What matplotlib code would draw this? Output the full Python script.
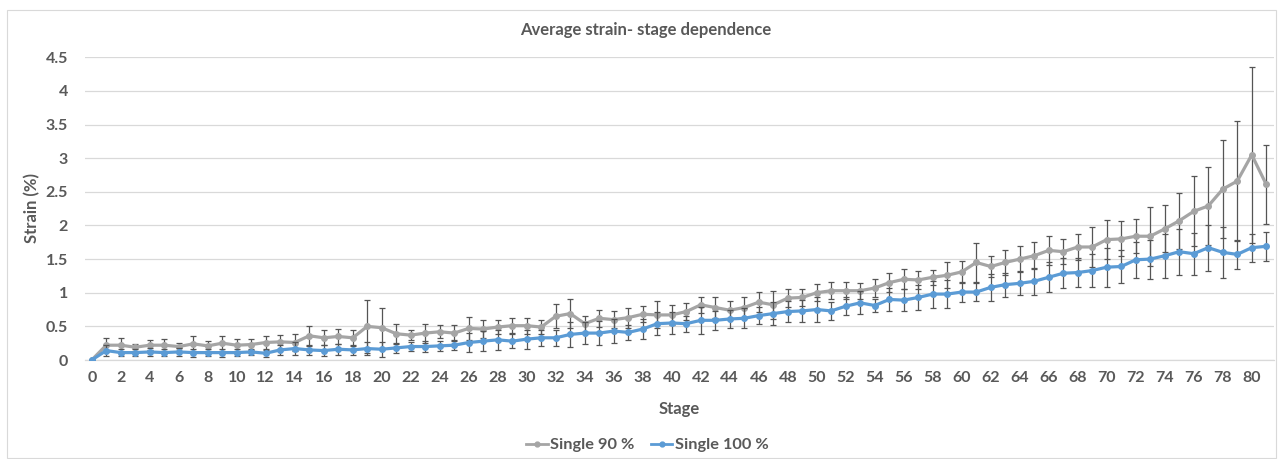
import matplotlib
matplotlib.use("Agg")
import matplotlib.pyplot as plt
from matplotlib.patches import Rectangle
from matplotlib.lines import Line2D

plt.rcParams['font.family'] = ['Lato', 'DejaVu Sans']

stages = list(range(0, 82))

single90 = [0.00, 0.22, 0.22, 0.19, 0.22, 0.22, 0.20, 0.24, 0.21, 0.25,
            0.22, 0.23, 0.26, 0.27, 0.26, 0.36, 0.33, 0.35, 0.33, 0.50,
            0.48, 0.39, 0.37, 0.40, 0.42, 0.40, 0.47, 0.46, 0.49, 0.51,
            0.51, 0.49, 0.65, 0.69, 0.54, 0.62, 0.60, 0.63, 0.68, 0.67,
            0.67, 0.72, 0.82, 0.78, 0.74, 0.78, 0.86, 0.82, 0.92, 0.93,
            1.00, 1.03, 1.03, 1.03, 1.07, 1.15, 1.20, 1.19, 1.23, 1.26,
            1.31, 1.45, 1.39, 1.45, 1.50, 1.55, 1.63, 1.61, 1.68, 1.68,
            1.79, 1.80, 1.84, 1.84, 1.95, 2.07, 2.21, 2.29, 2.54, 2.66,
            3.05, 2.61]
err90 = [0.00, 0.10, 0.10, 0.05, 0.07, 0.09, 0.06, 0.11, 0.07, 0.11,
         0.09, 0.08, 0.10, 0.10, 0.13, 0.15, 0.11, 0.11, 0.12, 0.39,
         0.30, 0.15, 0.08, 0.14, 0.10, 0.12, 0.17, 0.13, 0.11, 0.11,
         0.12, 0.11, 0.18, 0.22, 0.12, 0.13, 0.13, 0.15, 0.12, 0.20,
         0.15, 0.12, 0.12, 0.16, 0.13, 0.16, 0.15, 0.21, 0.13, 0.13,
         0.13, 0.13, 0.13, 0.12, 0.14, 0.14, 0.15, 0.14, 0.11, 0.19,
         0.16, 0.29, 0.16, 0.19, 0.19, 0.20, 0.22, 0.19, 0.19, 0.30,
         0.29, 0.26, 0.25, 0.44, 0.35, 0.42, 0.52, 0.58, 0.73, 0.89,
         1.31, 0.59]

single100 = [0.00, 0.14, 0.11, 0.11, 0.12, 0.11, 0.12, 0.11, 0.11, 0.11,
             0.11, 0.12, 0.10, 0.15, 0.17, 0.15, 0.14, 0.16, 0.15, 0.17,
             0.16, 0.18, 0.20, 0.20, 0.21, 0.22, 0.26, 0.28, 0.30, 0.28,
             0.31, 0.33, 0.33, 0.38, 0.40, 0.40, 0.43, 0.41, 0.46, 0.54,
             0.55, 0.54, 0.59, 0.59, 0.61, 0.62, 0.66, 0.69, 0.72, 0.73,
             0.75, 0.73, 0.80, 0.85, 0.81, 0.90, 0.89, 0.93, 0.98, 0.98,
             1.01, 1.01, 1.08, 1.12, 1.14, 1.17, 1.23, 1.29, 1.30, 1.33,
             1.38, 1.39, 1.49, 1.50, 1.55, 1.61, 1.58, 1.67, 1.60, 1.57,
             1.67, 1.69]
err100 = [0.00, 0.08, 0.05, 0.05, 0.06, 0.05, 0.06, 0.06, 0.05, 0.06,
          0.05, 0.05, 0.05, 0.08, 0.10, 0.07, 0.08, 0.08, 0.07, 0.10,
          0.11, 0.07, 0.07, 0.08, 0.07, 0.07, 0.14, 0.15, 0.15, 0.10,
          0.14, 0.12, 0.12, 0.18, 0.16, 0.18, 0.18, 0.11, 0.15, 0.17,
          0.16, 0.12, 0.20, 0.14, 0.13, 0.15, 0.13, 0.17, 0.15, 0.16,
          0.18, 0.13, 0.13, 0.17, 0.10, 0.17, 0.16, 0.19, 0.20, 0.21,
          0.15, 0.14, 0.20, 0.18, 0.18, 0.20, 0.22, 0.22, 0.22, 0.24,
          0.29, 0.24, 0.27, 0.29, 0.33, 0.34, 0.31, 0.34, 0.38, 0.21,
          0.21, 0.22]

xticks = list(range(0, 81, 2))
yticks = [0, 0.5, 1, 1.5, 2, 2.5, 3, 3.5, 4, 4.5]
ytick_labels = ['0', '0.5', '1', '1.5', '2', '2.5', '3', '3.5', '4', '4.5']

GREY = '#A5A5A5'
BLUE = '#5B9BD5'
TXT = '#595959'
ERRC = '#555555'

W, H = 1283, 459
fig = plt.figure(figsize=(W / 100, H / 100), dpi=100)
fig.patches.append(Rectangle((7 / W, 1 / H), 1269 / W, 448 / H, transform=fig.transFigure,
                             fill=False, edgecolor='#D9D9D9', linewidth=0.8))

ax = fig.add_axes([84.5 / W, 1 - 360 / H, 1189 / W, (360 - 57.3) / H])

ax.errorbar(stages, single90, yerr=err90, color=GREY, lw=2.3, marker='o', ms=4,
            ecolor=ERRC, elinewidth=0.9, capsize=2.5, capthick=0.9, zorder=3,
            label='Single 90 %')
ax.errorbar(stages, single100, yerr=err100, color=BLUE, lw=2.3, marker='o', ms=4,
            ecolor=ERRC, elinewidth=0.9, capsize=2.5, capthick=0.9, zorder=4,
            label='Single 100 %')

ax.set_xlim(-0.5, 81.5)
ax.set_ylim(0, 4.5)
ax.set_xticks(xticks)
ax.set_xticklabels([str(t) for t in xticks])
ax.set_yticks(yticks)
ax.set_yticklabels(ytick_labels)
ax.tick_params(axis='both', length=0, labelsize=11.5, labelcolor=TXT)
ax.tick_params(axis='x', pad=8)
ax.tick_params(axis='y', pad=12)
for lab in ax.get_xticklabels() + ax.get_yticklabels():
    lab.set_fontweight('bold')

ax.grid(axis='y', color='#D9D9D9', lw=0.9)
ax.set_axisbelow(True)
for s in ['top', 'right', 'left']:
    ax.spines[s].set_visible(False)
ax.spines['bottom'].set_color('#D9D9D9')
ax.spines['bottom'].set_linewidth(0.9)

fig.text(646 / W, 1 - 30 / H, 'Average strain- stage dependence', ha='center', va='center',
         fontsize=12, fontweight='bold', color=TXT)
fig.text(679 / W, 1 - 409 / H, 'Stage', ha='center', va='center',
         fontsize=12, fontweight='bold', color=TXT)
fig.text(32 / W, 1 - 208 / H, 'Strain (%)', ha='center', va='center', rotation=90,
         fontsize=12, fontweight='bold', color=TXT)

handles = [Line2D([], [], color=GREY, lw=2, marker='o', ms=3.5),
           Line2D([], [], color=BLUE, lw=2, marker='o', ms=3.5)]
leg = fig.legend(handles, ['Single 90 %', 'Single 100 %'], loc='center',
                 bbox_to_anchor=(647.5 / W, 1 - 445 / H), ncol=2, frameon=False,
                 handlelength=1.3, handletextpad=0.15, columnspacing=1.0,
                 prop={'size': 11.8, 'weight': 'bold'})
for t in leg.get_texts():
    t.set_color(TXT)

fig.savefig('out.png', dpi=100)
